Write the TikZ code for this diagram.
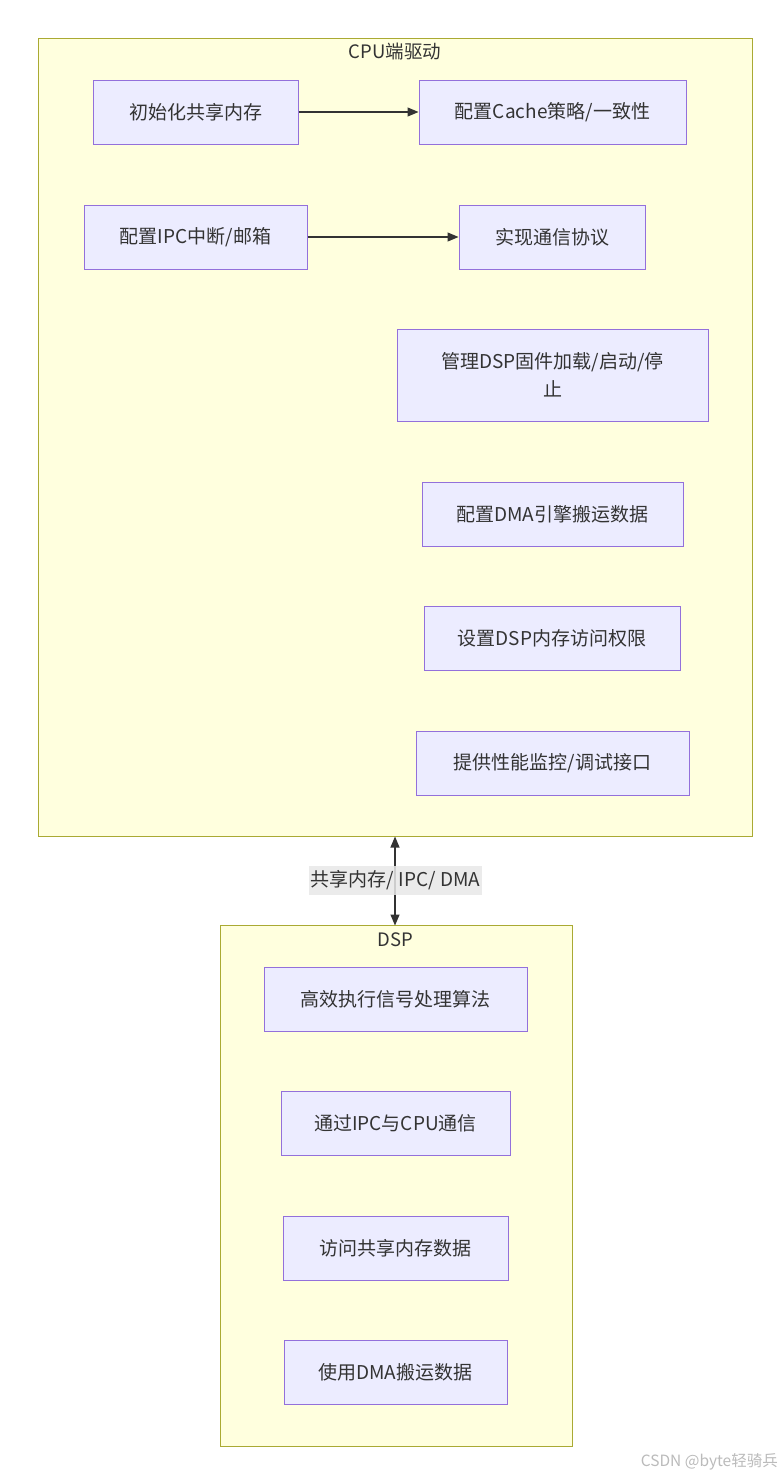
\documentclass[tikz,border=0pt]{standalone}
\usepackage{fontspec}
\setmainfont{Noto Sans CJK SC}
\usetikzlibrary{arrows.meta}
\definecolor{clfill}{HTML}{FFFFDE}
\definecolor{cldraw}{HTML}{AAAA33}
\definecolor{ndfill}{HTML}{ECECFF}
\definecolor{nddraw}{HTML}{9370DB}
\definecolor{txt}{HTML}{333333}
\definecolor{lblbg}{HTML}{E8E8E8}
\definecolor{wm}{HTML}{BBBBBB}
\tikzset{
  cluster/.style={draw=cldraw, fill=clfill, line width=1pt},
  nodebox/.style={draw=nddraw, fill=ndfill, line width=1pt, minimum height=64pt, inner sep=0pt, text=txt, font=\fontsize{19pt}{28pt}\selectfont},
  cltitle/.style={text=txt, font=\fontsize{18.5pt}{20pt}\selectfont, inner sep=0pt},
  link/.style={draw=txt, line width=1.2pt, -{Triangle[length=11pt,width=9pt]}},
  biglink/.style={draw=txt, line width=1.2pt, {Triangle[length=11pt,width=9pt]}-{Triangle[length=11pt,width=9pt]}},
  edgelabel/.style={fill=lblbg, fill opacity=0.85, text opacity=1, text=txt, font=\fontsize{19pt}{20pt}\selectfont, inner sep=0pt, minimum height=29pt, minimum width=173pt}
}
\begin{document}
\begin{tikzpicture}[x=1pt,y=-1pt]
\useasboundingbox (0,0) rectangle (784,1475);
\fill[white] (0,0) rectangle (784,1475);
% clusters
\draw[cluster] (38.5,38.5) rectangle (752.5,836.5);
\node[cltitle] (cputitle) at (395,52) {CPU端驱动};
\draw[cluster] (220.5,925.5) rectangle (572.5,1446.5);
\node[cltitle] (dsptitle) at (395,940) {DSP};
% CPU nodes
\node[nodebox, minimum width=205pt] (n1) at (195.5,112) {初始化共享内存};
\node[nodebox, minimum width=267pt] (n2) at (552.5,112) {配置Cache策略/一致性};
\node[nodebox, minimum width=223pt] (n3) at (195.5,237) {配置IPC中断/邮箱};
\node[nodebox, minimum width=186pt] (n4) at (552,237) {实现通信协议};
\node[nodebox, minimum width=311pt, minimum height=92pt, align=center] (n5) at (552.5,375) {管理DSP固件加载/启动/停\\止};
\node[nodebox, minimum width=261pt] (n6) at (552.5,514) {配置DMA引擎搬运数据};
\node[nodebox, minimum width=256pt] (n7) at (552,638) {设置DSP内存访问权限};
\node[nodebox, minimum width=273pt] (n8) at (552.5,763) {提供性能监控/调试接口};
% DSP nodes
\node[nodebox, minimum width=263pt] (d1) at (395.5,999) {高效执行信号处理算法};
\node[nodebox, minimum width=229pt] (d2) at (395.5,1123) {通过IPC与CPU通信};
\node[nodebox, minimum width=225pt] (d3) at (395.5,1248) {访问共享内存数据};
\node[nodebox, minimum width=223pt] (d4) at (395.5,1372) {使用DMA搬运数据};
% edges
\draw[link] (n1.east) -- (n2.west);
\draw[link] (n3.east) -- (n4.west);
\coordinate (cpubot) at (395,836.5);
\coordinate (dsptop) at (395,925.5);
\draw[biglink] (cpubot) -- (dsptop);
\node[edgelabel] (lbl) at (395.5,880.5) {共享内存/ IPC/ DMA};
% watermark
\node[text=wm, font=\fontsize{15.5pt}{17pt}\selectfont, anchor=east, inner sep=0pt] (wmk) at (778,1462) {CSDN @byte轻骑兵};
\end{tikzpicture}
\end{document}
